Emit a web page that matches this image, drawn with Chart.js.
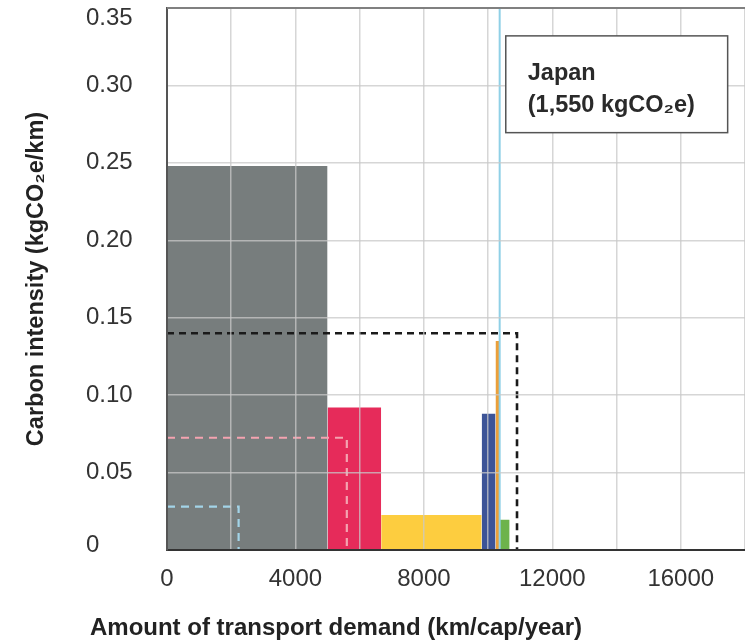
<!DOCTYPE html>
<html>
<head>
<meta charset="utf-8">
<script src="https://cdn.jsdelivr.net/npm/chart.js@4.4.1/dist/chart.umd.min.js"></script>
<style>
  html, body { margin: 0; padding: 0; background: #fff; }
  #wrap { width: 745px; height: 643px; position: relative; }
</style>
</head>
<body>
<div id="wrap"><canvas id="c" width="745" height="643"></canvas></div>
<script>
// Transport modes: demand (km/cap/year) is the bar width, carbon intensity (kgCO2e/km) the bar height
const modes = ['Car', 'Mode B', 'Mode C', 'Mode D', 'Mode E', 'Mode F'];
const demand = [5000, 1670, 3130, 430, 130, 310];
const intensity = [0.248, 0.092, 0.0226, 0.088, 0.135, 0.0195];
const modeColors = ['#777d7d', '#e62b5a', '#fdcd3f', '#3d5497', '#eba03a', '#6db34b'];

// Dashed outlines: overall average, and two reduced footprints
const frameDemand = [10900, 5600, 2230];
const frameIntensity = [0.14, 0.0725, 0.028];
const frameColors = ['#1a1a1a', '#f4a3b0', '#a3d4e8'];

// Marker of current total demand
const markerDemand = 10360;

const xTickValues = [0, 4000, 8000, 12000, 16000];
const xTickLabels = ['0', '4000', '8000', '12000', '16000'];
const yTickValues = [0, 0.05, 0.10, 0.15, 0.20, 0.25, 0.30, 0.35];
const yTickLabels = ['0', '0.05', '0.10', '0.15', '0.20', '0.25', '0.30', '0.35'];

const noteLines = ['Japan', '(1,550 kgCO\u2082e)'];
const yTitle = 'Carbon intensity (kgCO\u2082e/km)';
const xTitle = 'Amount of transport demand (km/cap/year)';

const FONT = '"Liberation Sans", Arial, sans-serif';

// Build one filled rectangle per mode from cumulative demand
const datasets = [];
let start = 0;
modes.forEach((m, i) => {
  const end = start + demand[i];
  datasets.push({
    label: m,
    data: [{ x: start, y: intensity[i] }, { x: end, y: intensity[i] }],
    backgroundColor: modeColors[i],
    borderWidth: 0,
    pointRadius: 0,
    fill: 'origin',
    order: 3
  });
  start = end;
});

frameDemand.forEach((d, i) => {
  datasets.push({
    label: 'frame' + i,
    data: [{ x: 0, y: frameIntensity[i] }, { x: d, y: frameIntensity[i] }, { x: d, y: 0 }],
    borderColor: frameColors[i],
    borderWidth: i === 0 ? 2.6 : 2.2,
    borderDash: i === 0 ? [7, 5] : [8, 6],
    pointRadius: 0,
    fill: false,
    order: 1
  });
});

datasets.push({
  label: 'marker',
  data: [{ x: markerDemand, y: 0 }, { x: markerDemand, y: 0.35 }],
  borderColor: '#8fd0e6',
  borderWidth: 2,
  pointRadius: 0,
  fill: false,
  order: 0
});

const overlay = {
  id: 'overlay',
  afterDraw(chart) {
    const { ctx, chartArea: a, scales: { x, y } } = chart;
    ctx.save();

    // top frame line
    ctx.strokeStyle = '#808080';
    ctx.lineWidth = 2;
    ctx.beginPath();
    ctx.moveTo(a.left, a.top);
    ctx.lineTo(a.right, a.top);
    ctx.stroke();

    // y tick labels, left aligned, kept inside the plot height
    ctx.font = '24px ' + FONT;
    ctx.fillStyle = '#333';
    ctx.textAlign = 'left';
    ctx.textBaseline = 'middle';
    yTickValues.forEach((v, i) => {
      let py = y.getPixelForValue(v);
      py = Math.min(Math.max(py, a.top + 10), a.bottom - 5);
      ctx.fillText(yTickLabels[i], 86, py);
    });

    // axis titles
    ctx.fillStyle = '#222';
    ctx.font = 'bold 24px ' + FONT;
    ctx.textAlign = 'center';
    ctx.fillText(xTitle, 336, 628);
    ctx.save();
    ctx.translate(37, (a.top + a.bottom) / 2);
    ctx.rotate(-Math.PI / 2);
    ctx.font = 'bold 23.5px ' + FONT;
    ctx.fillText(yTitle, 0, 0);
    ctx.restore();

    // note box
    const bx0 = x.getPixelForValue(10550), bx1 = x.getPixelForValue(17460);
    const by0 = y.getPixelForValue(0.332), by1 = y.getPixelForValue(0.2695);
    ctx.fillStyle = '#fff';
    ctx.fillRect(bx0, by0, bx1 - bx0, by1 - by0);
    ctx.strokeStyle = '#555';
    ctx.lineWidth = 1.5;
    ctx.strokeRect(bx0, by0, bx1 - bx0, by1 - by0);
    ctx.fillStyle = '#2a2a2a';
    ctx.font = 'bold 23.5px ' + FONT;
    ctx.textAlign = 'left';
    ctx.fillText(noteLines[0], bx0 + 22, by0 + 38);
    ctx.fillText(noteLines[1], bx0 + 22, by0 + 70);

    ctx.restore();
  }
};

new Chart(document.getElementById('c'), {
  type: 'line',
  data: { datasets },
  options: {
    responsive: false,
    animation: false,
    devicePixelRatio: 1,
    layout: { padding: { left: 85, top: 8, right: 0, bottom: 0 } },
    plugins: { legend: { display: false }, tooltip: { enabled: false } },
    scales: {
      x: {
        type: 'linear',
        min: 0,
        max: 18000,
        afterFit(s) { s.height = 93; s.paddingLeft = 0; s.paddingRight = 0; },
        ticks: {
          stepSize: 2000,
          autoSkip: false,
          maxRotation: 0,
          padding: 15,
          color: '#333',
          font: { family: FONT, size: 24 },
          callback(v) {
            const i = xTickValues.indexOf(v);
            return i >= 0 ? xTickLabels[i] : '';
          }
        },
        grid: { color: 'rgba(200,200,200,0.75)', lineWidth: 1.5, drawTicks: false, z: 1 },
        border: { color: '#333', width: 2, z: 2 }
      },
      y: {
        type: 'linear',
        min: 0,
        max: 0.35,
        afterFit(s) { s.width = 82; s.paddingTop = 0; s.paddingBottom = 0; },
        ticks: { stepSize: 0.05, display: false },
        grid: { color: 'rgba(200,200,200,0.75)', lineWidth: 1.5, drawTicks: false, z: 1 },
        border: { color: '#555', width: 2, z: 2 }
      }
    }
  },
  plugins: [overlay]
});
</script>
</body>
</html>
